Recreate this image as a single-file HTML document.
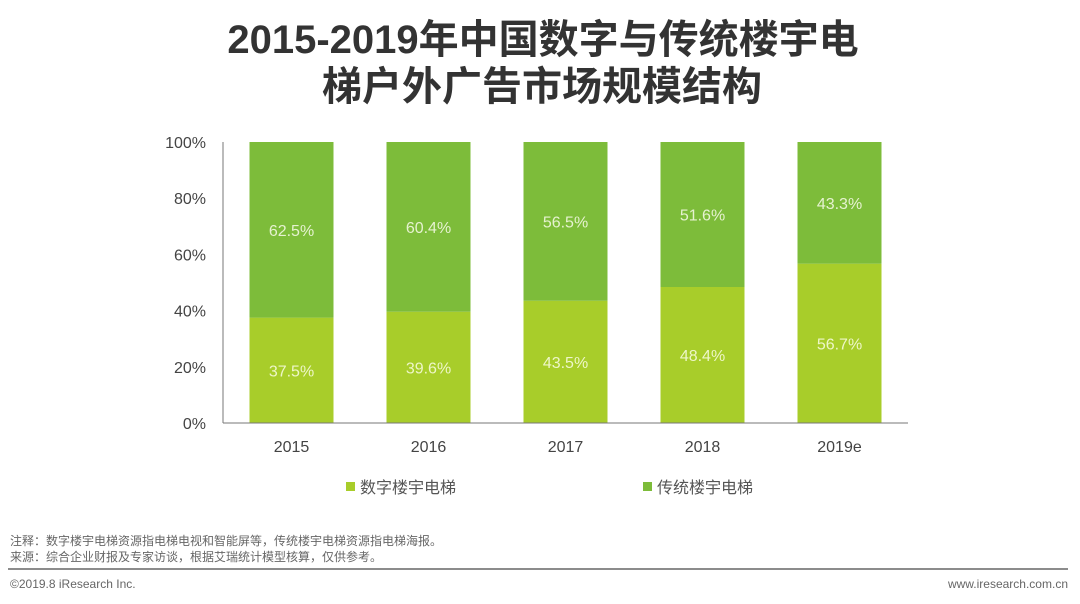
<!DOCTYPE html>
<html><head><meta charset="utf-8"><style>
body{margin:0;width:1080px;height:604px;background:#fff;overflow:hidden;font-family:"Liberation Sans","Noto Sans CJK SC",sans-serif}
</style></head><body>
<svg width="1080" height="604" style="position:absolute;left:0;top:0">
<text x="543" y="53" text-anchor="middle" font-size="40" font-weight="bold" fill="#333" font-family="Liberation Sans,Noto Sans CJK SC,sans-serif">2015-2019年中国数字与传统楼宇电</text>
<text x="542" y="100" text-anchor="middle" font-size="40" font-weight="bold" fill="#333" font-family="Liberation Sans,Noto Sans CJK SC,sans-serif">梯户外广告市场规模结构</text>
<g id="plot"></g>
<rect x="346" y="482" width="9" height="9" fill="#a8cd2a"/>
<text x="360" y="493" font-size="16" fill="#555">数字楼宇电梯</text>
<rect x="643" y="482" width="9" height="9" fill="#7dbc3a"/>
<text x="657" y="493" font-size="16" fill="#555">传统楼宇电梯</text>
<text x="10" y="545" font-size="12" fill="#666">注释：数字楼宇电梯资源指电梯电视和智能屏等，传统楼宇电梯资源指电梯海报。</text>
<text x="10" y="561" font-size="12" fill="#666">来源：综合企业财报及专家访谈，根据艾瑞统计模型核算，仅供参考。</text>
<line x1="8" y1="569" x2="1068" y2="569" stroke="#666" stroke-width="1.5"/>
<text x="10" y="588" font-size="12" fill="#666">©2019.8 iResearch Inc.</text>
<text x="1068" y="588" text-anchor="end" font-size="12" fill="#666">www.iresearch.com.cn</text>
</svg>
<script>
const categories=["2015","2016","2017","2018","2019e"];
const digital=[37.5,39.6,43.5,48.4,56.7];
const traditional=[62.5,60.4,56.5,51.6,43.3];
const yTicks=[0,20,40,60,80,100];
const X0=223,SLOT=137,Y0=423,Y1=142,BW=84;
const y=v=>Y0-(v/100)*(Y0-Y1);
const xc=i=>X0+SLOT*(i+0.5);
const g=document.getElementById('plot');
const NS='http://www.w3.org/2000/svg';
function mk(t,a){const e=document.createElementNS(NS,t);for(const k in a)e.setAttribute(k,a[k]);g.appendChild(e);return e;}
yTicks.forEach(v=>{const t=mk('text',{x:206,y:y(v)+6,'text-anchor':'end','font-size':16,fill:'#444'});t.textContent=v+'%';

});
categories.forEach((c,i)=>{
const cx=xc(i);
const r1=mk('rect',{x:cx-BW/2,y:y(digital[i]),width:BW,height:Y0-y(digital[i]),fill:'#a8cd2a'});


const r2=mk('rect',{x:cx-BW/2,y:y(digital[i]+traditional[i]),width:BW,height:y(digital[i])-y(digital[i]+traditional[i]),fill:'#7dbc3a'});


const l1=mk('text',{x:cx,y:(y(digital[i])+Y0)/2+6,'text-anchor':'middle','font-size':16,fill:'#eef6c8'});l1.textContent=digital[i].toFixed(1)+'%';


const l2=mk('text',{x:cx,y:(y(digital[i])+y(100))/2+6,'text-anchor':'middle','font-size':16,fill:'#e6f2d0'});l2.textContent=traditional[i].toFixed(1)+'%';


const xl=mk('text',{x:cx,y:452,'text-anchor':'middle','font-size':16,fill:'#444'});xl.textContent=c;


});
const ax=mk('line',{x1:X0,y1:Y1,x2:X0,y2:Y0,stroke:'#777','stroke-width':1});


const bx=mk('line',{x1:X0,y1:Y0,x2:X0+SLOT*5,y2:Y0,stroke:'#777','stroke-width':1});


</script>
</body></html>
